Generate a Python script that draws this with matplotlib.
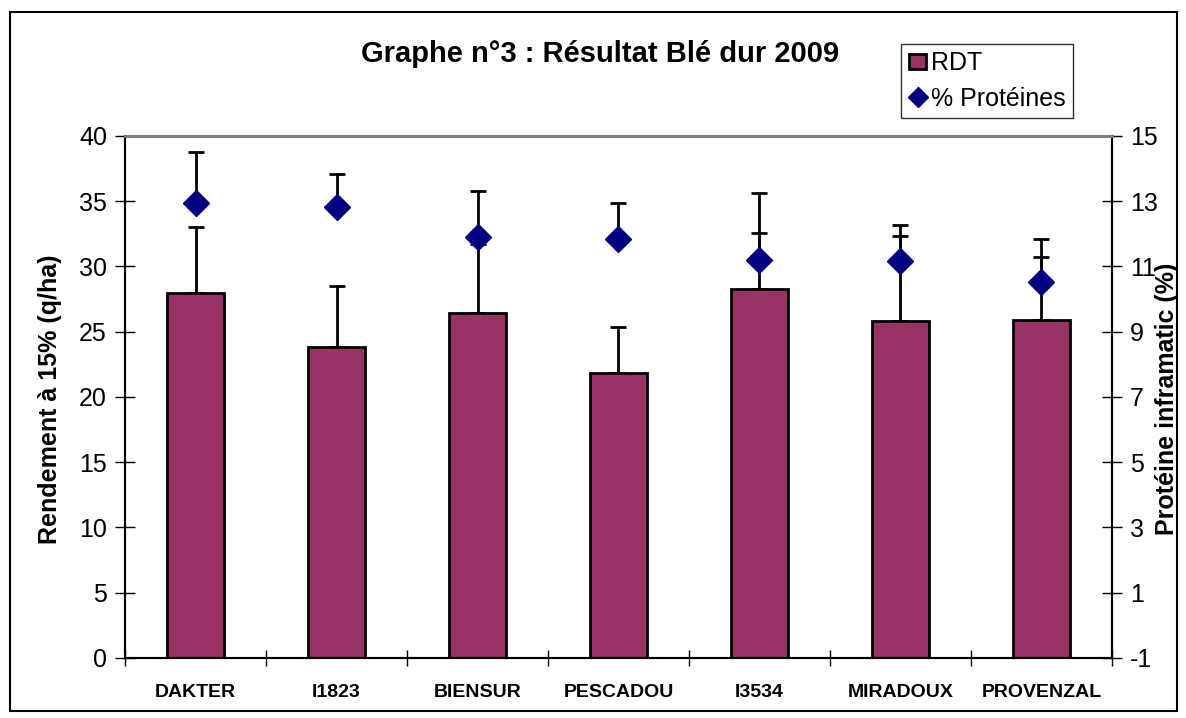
import matplotlib.pyplot as plt
import numpy as np
from matplotlib.patches import Rectangle

plt.rcParams['font.family'] = ['Liberation Sans', 'DejaVu Sans']
plt.rcParams['axes.unicode_minus'] = False

# data
varietes = ['DAKTER', 'I1823', 'BIENSUR', 'PESCADOU', 'I3534', 'MIRADOUX', 'PROVENZAL']
rdt = [28.0, 23.8, 26.4, 21.8, 28.3, 25.8, 25.9]
rdt_err = [5.0, 4.7, 5.3, 3.6, 4.3, 6.5, 4.8]
proteines = [12.95, 12.82, 11.9, 11.84, 11.2, 11.17, 10.52]
prot_err = [1.56, 1.0, 1.41, 1.1, 2.05, 1.1, 1.32]

fig = plt.figure(figsize=(11.86, 7.18), dpi=100)
ax1 = fig.add_axes([0.1054, 0.0836, 0.8322, 0.727])
ax2 = ax1.twinx()

x = np.arange(len(varietes))
zeros = [0] * len(varietes)

ax1.bar(x, rdt, width=0.4, color='#993366', edgecolor='black', linewidth=2, zorder=2,
        label='RDT')
ax1.errorbar(x, rdt, yerr=[zeros, rdt_err], fmt='none', ecolor='black', elinewidth=2,
             capsize=6, capthick=2, zorder=1)

ax2.errorbar(x, proteines, yerr=[zeros, prot_err], fmt='none', ecolor='black', elinewidth=2,
             capsize=6, capthick=2, zorder=2)
ax2.plot(x, proteines, linestyle='none', marker='D', markersize=13, color='#000080',
         zorder=3, label='% Protéines')

ax1.set_xlim(-0.5, len(varietes) - 0.5)
ax1.set_ylim(0, 40)
ax1.set_yticks(range(0, 41, 5))
ax2.set_ylim(-1, 15)
ax2.set_yticks(range(-1, 16, 2))

ax1.set_xticks(x)
ax1.set_xticklabels(varietes, fontsize=14, fontweight='bold')
ax1.set_xticks(np.arange(-0.5, len(varietes), 1), minor=True)
ax1.tick_params(axis='x', which='major', length=0, pad=19)
ax1.tick_params(axis='x', which='minor', direction='inout', length=12, width=1)
ax1.tick_params(axis='y', direction='inout', length=14, width=1, labelsize=18, pad=6)
ax2.tick_params(axis='y', direction='inout', length=14, width=1, labelsize=18, pad=6)

ax1.set_ylabel('Rendement à 15% (q/ha)', fontsize=18, fontweight='bold',
               ha='center', va='center')
ax2.set_ylabel('Protéine inframatic (%)', fontsize=18, fontweight='bold', rotation=90,
               ha='center', va='center')
ax1.yaxis.set_label_coords(-0.076, 0.496)
ax2.yaxis.set_label_coords(1.056, 0.496)

for ax in (ax1, ax2):
    ax.spines['top'].set_color('#808080')
    ax.spines['top'].set_linewidth(2)
    ax.spines['left'].set_linewidth(1.5)
    ax.spines['right'].set_linewidth(1.5)
    ax.spines['bottom'].set_linewidth(1.5)

fig.text(0.506, 0.925, 'Graphe n°3 : Résultat Blé dur 2009', ha='center', va='center',
         fontsize=21, fontweight='bold')

h1, l1 = ax1.get_legend_handles_labels()
h2, l2 = ax2.get_legend_handles_labels()
leg = fig.legend(h1 + h2, l1 + l2, loc='upper left', bbox_to_anchor=(0.760, 0.939),
                 fontsize=18, frameon=True, fancybox=False, handlelength=0.7,
                 handleheight=0.6, handletextpad=0.2, borderpad=0.3, labelspacing=0.45,
                 borderaxespad=0, markerscale=0.75)
leg.get_frame().set_edgecolor('black')
leg.get_frame().set_linewidth(1)

fig.patches.append(Rectangle((10 / 1186, 7 / 718), 1167 / 1186, 699 / 718,
                             transform=fig.transFigure, fill=False, edgecolor='black',
                             linewidth=1.5))

fig.savefig('out.png', dpi=100)
